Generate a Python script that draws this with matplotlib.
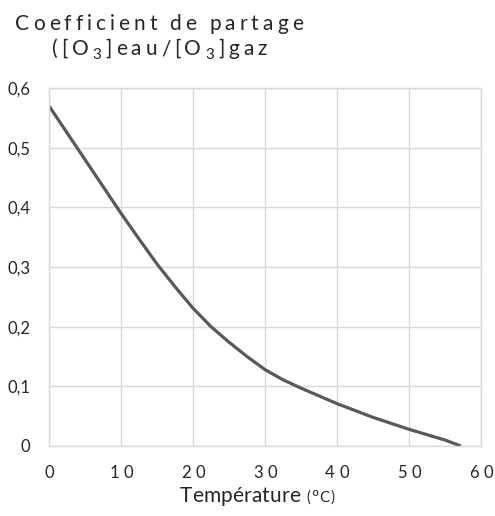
import numpy as np
import matplotlib as mpl
import matplotlib.pyplot as plt
from matplotlib.transforms import IdentityTransform

mpl.rcParams['font.family'] = ['Lato', 'DejaVu Sans']

# partition coefficient of ozone, water / gas, vs temperature
temp = [0, 5, 10, 12.5, 15, 17.5, 20, 22.5, 25, 27.5, 30, 32.5, 35, 40, 45, 50, 55, 57.2]
coef = [0.57, 0.48, 0.39, 0.347, 0.305, 0.267, 0.231, 0.2, 0.174, 0.15, 0.128, 0.111,
        0.097, 0.071, 0.048, 0.028, 0.01, 0.0]

xticks = [0, 10, 20, 30, 40, 50, 60]
yticks = [0, 0.1, 0.2, 0.3, 0.4, 0.5, 0.6]
ylabs = ['0', '0,1', '0,2', '0,3', '0,4', '0,5', '0,6']

tcol = '#262626'
gcol = '#d9d9d9'
W, H = 495, 516
fig = plt.figure(figsize=(W/100, H/100), dpi=100)
ax = fig.add_axes([49/W, 70/H, 432/W, 358/H])
rend = fig.canvas.get_renderer()

def tracked(x, y, segs, track=0.0, width=None, ha='left'):
    # letter-spaced text, one glyph at a time, positions in pixels
    items = []
    for s, size, dy in segs:
        for ch in s:
            if ch == ' ':
                items.append((None, size*100/72*0.22, 0))
                continue
            t = fig.text(0, 0, ch, fontsize=size, color=tcol, va='baseline', ha='left',
                         transform=IdentityTransform())
            items.append((t, t.get_window_extent(rend).width, dy))
    nat = sum(it[1] for it in items)
    if width is not None:
        track = (width - nat)/(len(items) - 1)
    total = nat + track*(len(items) - 1)
    if ha == 'center': x -= total/2
    for t, w, dy in items:
        if t is not None: t.set_position((x, y + dy))
        x += w + track

ax.plot(temp, coef, color='#595959', lw=2.3, solid_capstyle='butt')

ax.set_xlim(0, 60) ; ax.set_ylim(0, 0.6)
ax.set_xticks(xticks) ; ax.set_xticklabels([])
ax.set_yticks(yticks)
ax.set_yticklabels(ylabs, fontsize=12, color=tcol)
ax.tick_params(length=0)
ax.tick_params(axis='y', pad=13.5)
ax.grid(color=gcol, lw=1.0)
for s in ax.spines.values():
    s.set_color(gcol) ; s.set_linewidth(1.0)
ax.set_axisbelow(True)

# x tick labels, spaced digits
for t in xticks:
    px = ax.transData.transform((t, 0))[0]
    tracked(px, 38, [(str(t), 12, 0)], track=4.5, ha='center')

# title, two lines
tracked(15, 486, [('Coefficient de partage', 15, 0)], width=288)
tracked(52, 461, [('([O', 15, 0), ('3', 11, -4), (']eau/[O', 15, 0), ('3', 11, -4), (']gaz', 15, 0)],
        width=215)

# axis title
tracked(180, 14, [('Température', 15, 0)], width=120)
tracked(306, 14, [('(', 11, 0), ('º', 13, 0), ('C)', 11, 0)], track=1.0)

fig.savefig('out.png', dpi=100)
